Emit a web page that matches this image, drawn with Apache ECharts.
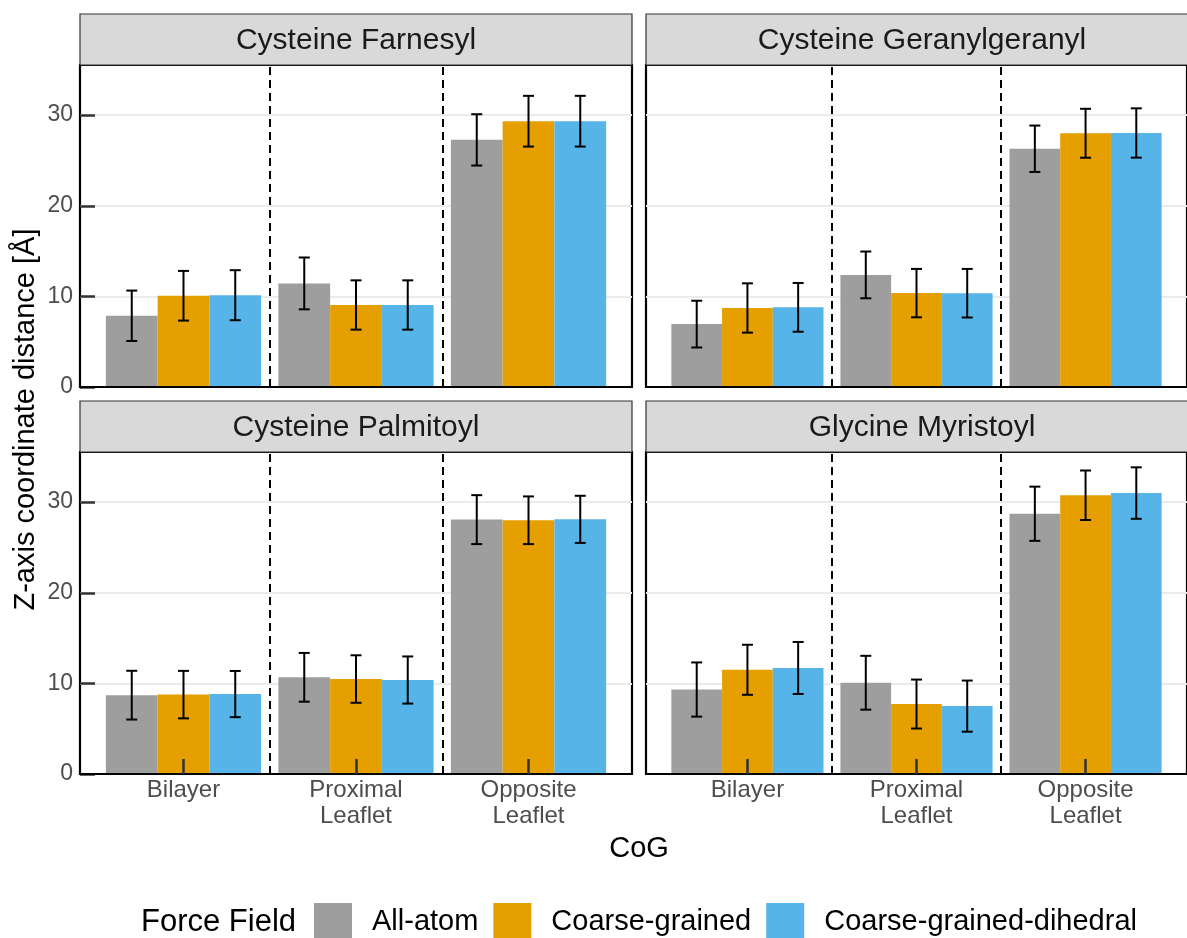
<!DOCTYPE html>
<html>
<head>
<meta charset="utf-8">
<script src="https://cdn.jsdelivr.net/npm/echarts@6/dist/echarts.min.js"></script>
<style>
html, body { margin: 0; padding: 0; background: #fff; }
#chart { width: 1187px; height: 938px; }
</style>
</head>
<body>
<div id="chart"></div>
<script>
// ---------- data ----------
const categories = ['Bilayer', 'Proximal\nLeaflet', 'Opposite\nLeaflet'];
const panelTitles = ['Cysteine Farnesyl', 'Cysteine Geranylgeranyl', 'Cysteine Palmitoyl', 'Glycine Myristoyl'];
const forceFields = ['All-atom', 'Coarse-grained', 'Coarse-grained-dihedral'];
const yTicks = [0, 10, 20, 30];

// Cysteine Farnesyl
const farnesylAA = [7.86, 11.43, 27.27];
const farnesylAAErr = [2.78, 2.86, 2.83];
const farnesylCG = [10.07, 9.05, 29.33];
const farnesylCGErr = [2.74, 2.72, 2.80];
const farnesylCGD = [10.13, 9.05, 29.33];
const farnesylCGDErr = [2.76, 2.72, 2.80];

// Cysteine Geranylgeranyl
const geranylAA = [6.94, 12.37, 26.29];
const geranylAAErr = [2.58, 2.58, 2.56];
const geranylCG = [8.72, 10.36, 28.00];
const geranylCGErr = [2.72, 2.67, 2.70];
const geranylCGD = [8.79, 10.35, 28.03];
const geranylCGDErr = [2.69, 2.68, 2.72];

// Cysteine Palmitoyl
const palmitoylAA = [8.70, 10.67, 28.07];
const palmitoylAAErr = [2.69, 2.69, 2.70];
const palmitoylCG = [8.76, 10.48, 28.00];
const palmitoylCGErr = [2.62, 2.62, 2.63];
const palmitoylCGD = [8.82, 10.37, 28.10];
const palmitoylCGDErr = [2.55, 2.60, 2.60];

// Glycine Myristoyl
const myristoylAA = [9.32, 10.07, 28.72];
const myristoylAAErr = [2.99, 2.97, 2.99];
const myristoylCG = [11.50, 7.72, 30.76];
const myristoylCGErr = [2.76, 2.70, 2.73];
const myristoylCGD = [11.70, 7.49, 31.00];
const myristoylCGDErr = [2.87, 2.82, 2.84];

// ---------- assembly ----------
const panelMeans = [
  [farnesylAA, farnesylCG, farnesylCGD],
  [geranylAA, geranylCG, geranylCGD],
  [palmitoylAA, palmitoylCG, palmitoylCGD],
  [myristoylAA, myristoylCG, myristoylCGD]
];
const panelErrs = [
  [farnesylAAErr, farnesylCGErr, farnesylCGDErr],
  [geranylAAErr, geranylCGErr, geranylCGDErr],
  [palmitoylAAErr, palmitoylCGErr, palmitoylCGDErr],
  [myristoylAAErr, myristoylCGErr, myristoylCGDErr]
];

const ffColors = ['#9E9E9E', '#E69F00', '#56B4E9'];
const FONT = '"Liberation Sans", Arial, Helvetica, sans-serif';

// layout
const panelW = 552, panelH = 322;
const lefts = [80, 646];
const tops = [65, 452];
const stripH = 51;

// scale limits (ggplot-like expansion)
let maxTop = 0;
panelMeans.forEach((p, pi) => p.forEach((s, si) => s.forEach((v, ci) => {
  maxTop = Math.max(maxTop, v + panelErrs[pi][si][ci]);
})));
const yMax = maxTop * 1.05;
const xMin = 1 - 0.6, xMax = categories.length + 0.6;
const dodge = 0.9 / forceFields.length;
const separators = categories.slice(1).map((_, i) => i + 1.5);

const grids = [], xAxes = [], yAxes = [], series = [], graphics = [];

for (let p = 0; p < 4; p++) {
  const col = p % 2, row = Math.floor(p / 2);
  const isBottom = row === 1, isLeft = col === 0;
  grids.push({
    left: lefts[col], top: tops[row], width: panelW, height: panelH,
    show: true, borderColor: '#000', borderWidth: 2.2, backgroundColor: 'transparent'
  });
  xAxes.push({
    type: 'value', gridIndex: p, min: xMin, max: xMax, z: 10,
    axisLine: { show: true, onZero: false, lineStyle: { color: '#000', width: 2.2 } },
    axisTick: { show: isBottom, inside: true, length: 15, customValues: [1, 2, 3],
      lineStyle: { color: '#333', width: 2.5 } },
    axisLabel: { show: isBottom, customValues: [1, 2, 3], margin: 3,
      fontSize: 24, lineHeight: 26, color: '#4D4D4D', fontFamily: FONT,
      formatter: v => categories[Math.round(v) - 1] || '' },
    splitLine: { show: false }
  });
  yAxes.push({
    type: 'value', gridIndex: p, min: 0, max: yMax, interval: 10,
    axisLine: { show: false },
    axisTick: { show: isLeft, inside: true, length: 15, customValues: yTicks,
      lineStyle: { color: '#333', width: 2.5 } },
    axisLabel: { show: isLeft, customValues: yTicks, margin: 7,
      fontSize: 23, color: '#4D4D4D', fontFamily: FONT },
    splitLine: { show: true, lineStyle: { color: '#EBEBEB', width: 2 } }
  });

  for (let s = 0; s < forceFields.length; s++) {
    const bar = {
      name: forceFields[s], type: 'bar', xAxisIndex: p, yAxisIndex: p,
      barGap: '0%', barCategoryGap: '10%',
      itemStyle: { color: ffColors[s] },
      data: panelMeans[p][s].map((v, ci) => [ci + 1, v]),
      z: 2
    };
    series.push(bar);
    series.push({
      name: forceFields[s] + ' err', type: 'custom', xAxisIndex: p, yAxisIndex: p,
      z: 5, silent: true,
      encode: { x: 0, y: [1, 2] },
      data: panelMeans[p][s].map((v, ci) => [ci + 1 + (s - 1) * dodge,
        v - panelErrs[p][s][ci], v + panelErrs[p][s][ci]]),
      renderItem: (params, api) => {
        const x = api.value(0);
        const lo = api.coord([x, api.value(1)]);
        const hi = api.coord([x, api.value(2)]);
        const hw = 5.5;
        const st = { stroke: '#000', lineWidth: 2 };
        return { type: 'group', children: [
          { type: 'line', shape: { x1: lo[0], y1: lo[1], x2: hi[0], y2: hi[1] }, style: st },
          { type: 'line', shape: { x1: lo[0] - hw, y1: lo[1], x2: lo[0] + hw, y2: lo[1] }, style: st },
          { type: 'line', shape: { x1: hi[0] - hw, y1: hi[1], x2: hi[0] + hw, y2: hi[1] }, style: st }
        ]};
      }
    });
  }

  // dashed category separators (on a non-dodged line series)
  series.push({
    name: 'sep' + p, type: 'line', xAxisIndex: p, yAxisIndex: p, data: [],
    silent: true, z: 4,
    markLine: {
      silent: true, symbol: 'none', label: { show: false },
      lineStyle: { color: '#000', type: [8, 5], width: 2 },
      data: separators.map(x => ({ xAxis: x }))
    }
  });

  // facet strip
  graphics.push({
    type: 'rect', z: 1,
    shape: { x: lefts[col], y: tops[row] - stripH, width: panelW, height: stripH },
    style: { fill: '#D9D9D9', stroke: '#333', lineWidth: 1.2 }
  });
  graphics.push({
    type: 'text', z: 2,
    x: lefts[col] + panelW / 2, y: tops[row] - stripH / 2 + 1,
    style: { text: panelTitles[p], fill: '#1A1A1A', font: '30px ' + FONT,
      align: 'center', verticalAlign: 'middle' }
  });
}

// axis titles and legend title
graphics.push({
  type: 'text', x: 26, y: (tops[0] + tops[1] + panelH) / 2, rotation: Math.PI / 2,
  style: { text: 'Z-axis coordinate distance [Å]', fill: '#000', font: '29px ' + FONT,
    align: 'center', verticalAlign: 'middle' }
});
graphics.push({
  type: 'text', x: (lefts[0] + lefts[1] + panelW) / 2, y: 849,
  style: { text: 'CoG', fill: '#000', font: '29px ' + FONT, align: 'center', verticalAlign: 'middle' }
});
graphics.push({
  type: 'text', x: 141, y: 922,
  style: { text: 'Force Field', fill: '#000', font: '31px ' + FONT, align: 'left', verticalAlign: 'middle' }
});

const option = {
  animation: false,
  backgroundColor: '#fff',
  grid: grids,
  xAxis: xAxes,
  yAxis: yAxes,
  legend: {
    data: forceFields, left: 314, top: 903, padding: 0,
    itemWidth: 38, itemHeight: 38, itemGap: 15, icon: 'rect',
    selectedMode: false,
    textStyle: { fontSize: 29, color: '#000', fontFamily: FONT, padding: [0, 0, 0, 15] }
  },
  graphic: graphics,
  series: series
};

const chart = echarts.init(document.getElementById('chart'), null, { renderer: 'canvas' });
chart.setOption(option);
</script>
</body>
</html>
